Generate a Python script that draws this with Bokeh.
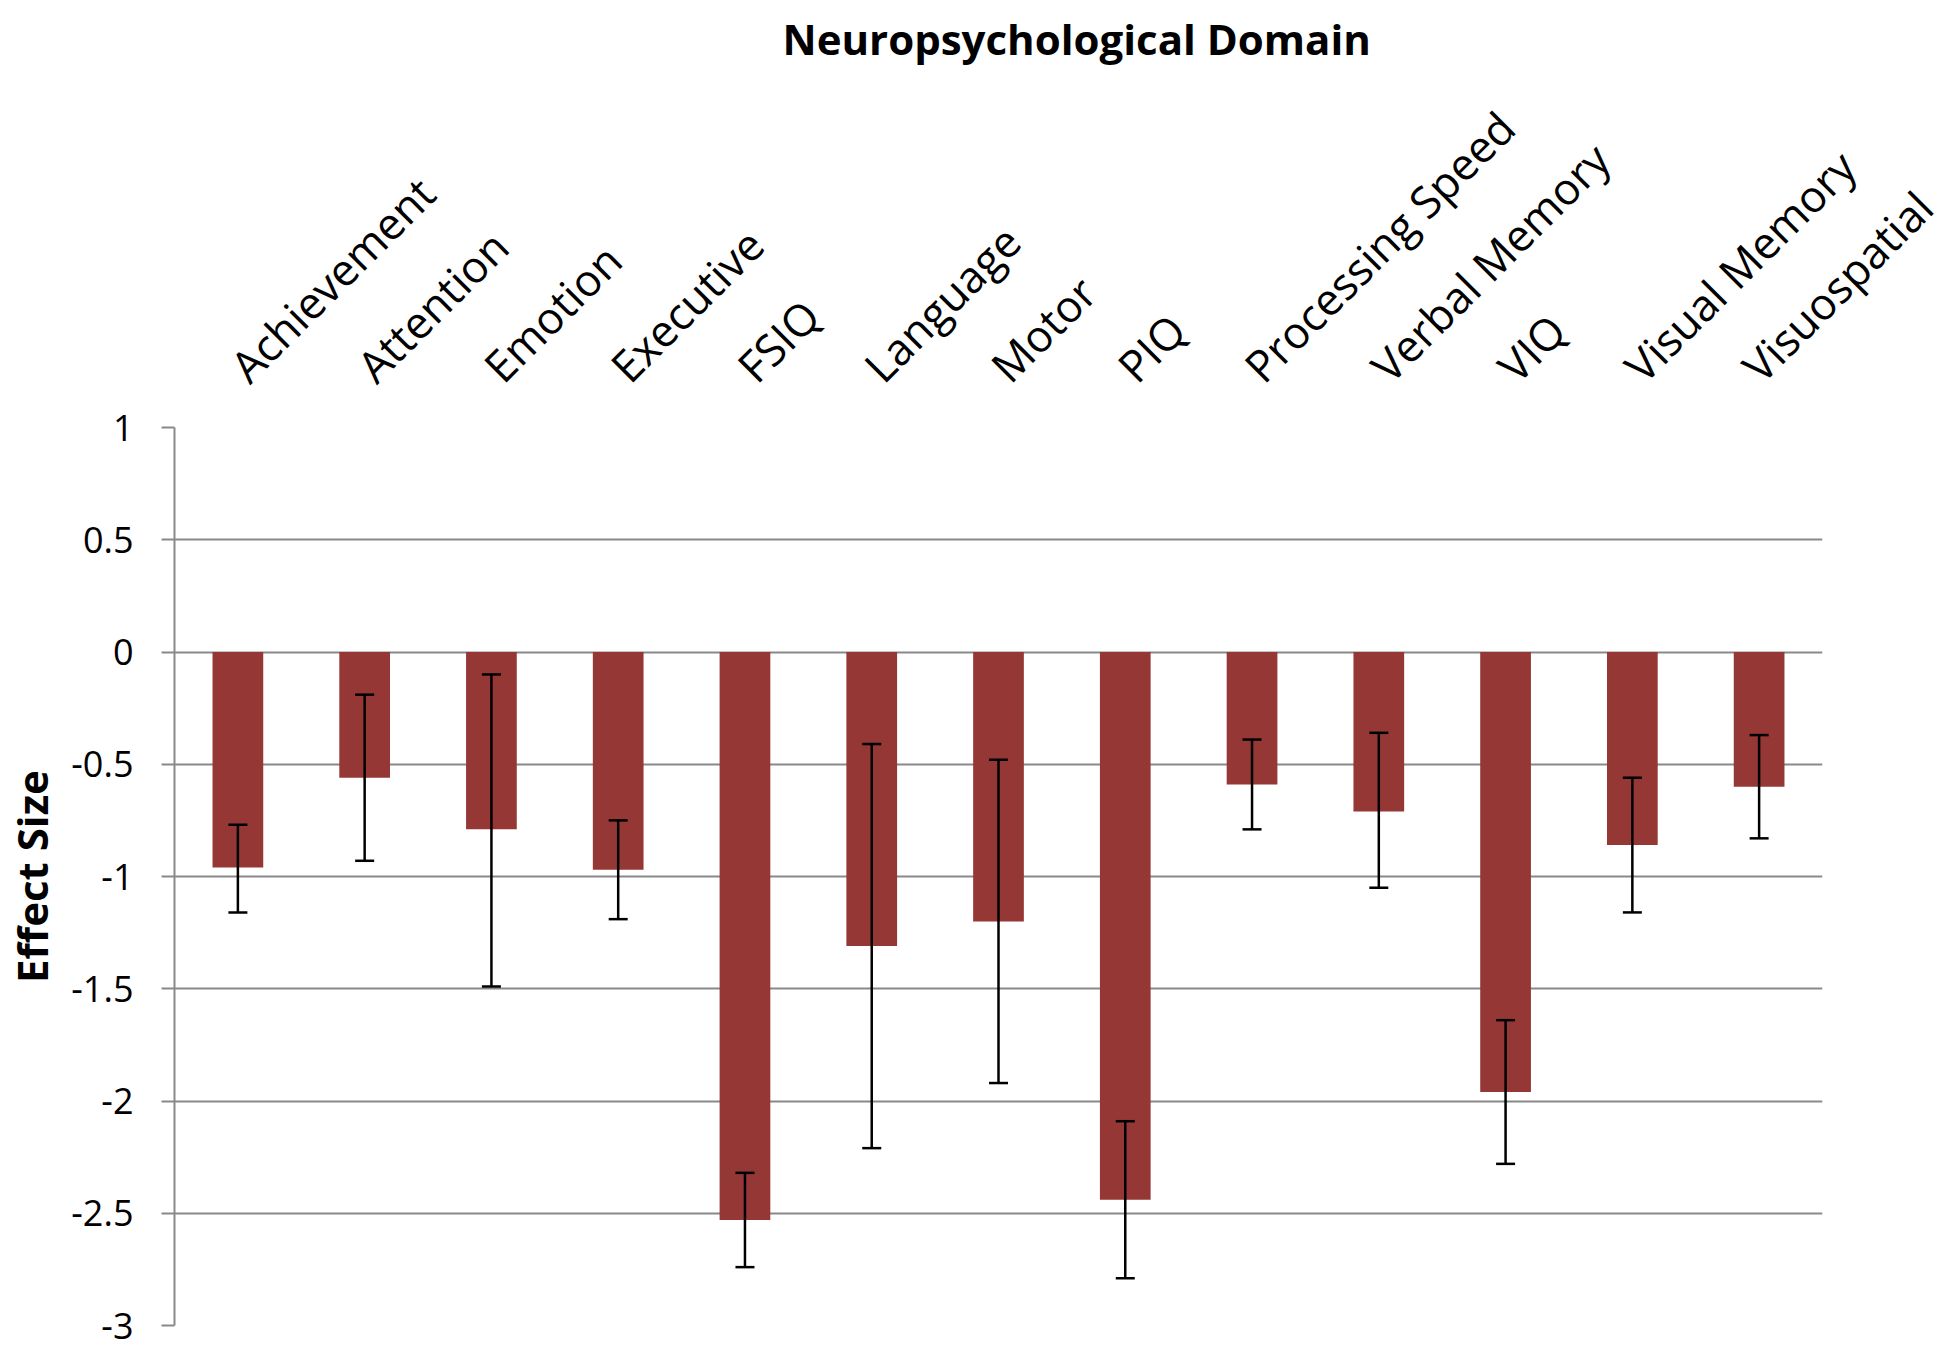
import math
from bokeh.plotting import figure
from bokeh.models import (ColumnDataSource, Whisker, FixedTicker, Range1d,
                          FactorRange, TeeHead)
from bokeh.embed import file_html
from bokeh.resources import INLINE

domains = ["Achievement", "Attention", "Emotion", "Executive", "FSIQ",
           "Language", "Motor", "PIQ", "Processing Speed", "Verbal Memory",
           "VIQ", "Visual Memory", "Visuospatial"]
effect_size = [-0.96, -0.56, -0.79, -0.97, -2.53, -1.31, -1.20, -2.44,
               -0.59, -0.71, -1.96, -0.86, -0.60]
ci_lower = [-1.16, -0.93, -1.49, -1.19, -2.74, -2.21, -1.92, -2.79,
            -0.79, -1.05, -2.28, -1.16, -0.83]
ci_upper = [-0.77, -0.19, -0.10, -0.75, -2.32, -0.41, -0.48, -2.09,
            -0.39, -0.36, -1.64, -0.56, -0.37]
y_ticks = [-3, -2.5, -2, -1.5, -1, -0.5, 0, 0.5, 1]
y_tick_labels = ["-3", "-2.5", "-2", "-1.5", "-1", "-0.5", "0", "0.5", "1"]
title_text = "Neuropsychological Domain"
y_label_text = "Effect Size"

FONT = "Open Sans"
GRID = "#898989"

src = ColumnDataSource(dict(domain=domains, effect=effect_size,
                            lower=ci_lower, upper=ci_upper))

p = figure(x_range=FactorRange(factors=domains), y_range=Range1d(-3, 1),
           frame_width=1648, frame_height=898, output_backend="svg",
           toolbar_location=None, x_axis_location="above",
           min_border_left=174, min_border_right=123,
           min_border_top=427, min_border_bottom=15)

p.title.text = title_text
p.title.align = "left"
p.title.offset = 608
p.title.standoff = 14
p.title.text_font = FONT
p.title.text_font_size = "42px"
p.title.text_font_style = "bold"
p.title.text_color = "black"

p.vbar(x="domain", top="effect", bottom=0, width=0.4, source=src,
       fill_color="#953735", line_color=None)

w = Whisker(source=src, base="domain", upper="upper", lower="lower",
            line_color="black", line_width=2.5, level="overlay",
            upper_head=TeeHead(size=19, line_color="black", line_width=2.5),
            lower_head=TeeHead(size=19, line_color="black", line_width=2.5))
p.add_layout(w)

p.outline_line_color = None
p.xgrid.grid_line_color = None
p.ygrid.grid_line_color = GRID
p.ygrid.grid_line_width = 2

# x axis (above)
xa = p.xaxis[0]
xa.axis_line_color = None
xa.major_tick_line_color = None
xa.minor_tick_line_color = None
xa.major_label_orientation = math.pi / 4
xa.major_label_text_font = FONT
xa.major_label_text_font_size = "44px"
xa.major_label_text_color = "black"
xa.major_label_standoff = 48

# y axis
ya = p.yaxis[0]
ya.ticker = FixedTicker(ticks=y_ticks)
ya.major_label_overrides = {t: s for t, s in zip(y_ticks, y_tick_labels)}
ya.axis_line_color = GRID
ya.axis_line_width = 2
ya.major_tick_line_color = GRID
ya.major_tick_line_width = 2
ya.major_tick_out = 13
ya.major_tick_in = 0
ya.minor_tick_line_color = None
ya.major_label_text_font = FONT
ya.major_label_text_font_size = "36px"
ya.major_label_text_color = "black"
ya.major_label_standoff = 28
ya.axis_label = y_label_text
ya.axis_label_text_font = FONT
ya.axis_label_text_font_size = "42px"
ya.axis_label_text_font_style = "bold"
ya.axis_label_text_color = "black"
ya.axis_label_standoff = 8

open("out.html", "w").write(file_html(p, INLINE))
